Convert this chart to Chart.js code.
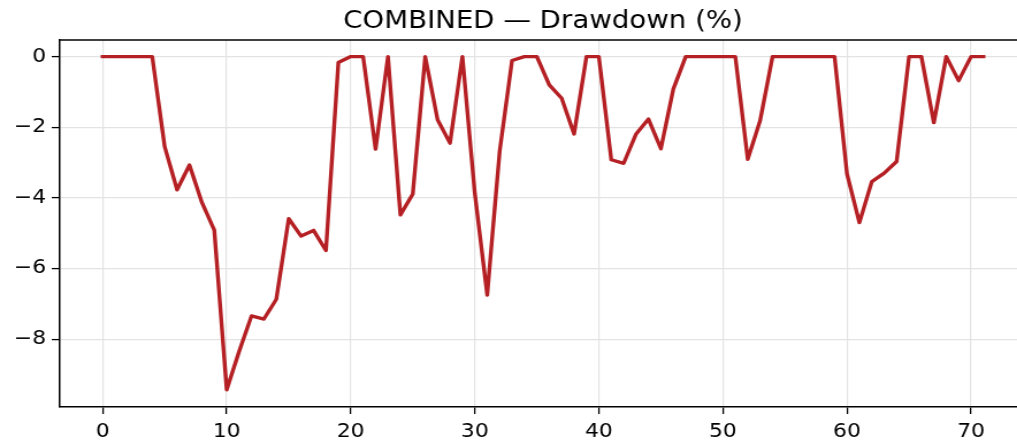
<!DOCTYPE html>
<html>
<head>
<meta charset="utf-8">
<script src="https://cdn.jsdelivr.net/npm/chart.js@4"></script>
<style>
  html, body { margin: 0; padding: 0; background: #fff; overflow: hidden; }
  #wrap { width: 944px; height: 447px; transform: scaleX(1.1505); transform-origin: 0 0; }
</style>
</head>
<body>
<div id="wrap"><canvas id="grafico-drawdown"></canvas></div>
<script>
// Dados do gráfico
const titulo = 'COMBINED — Drawdown (%)';
const dias = [0, 1, 2, 3, 4, 5, 6, 7, 8, 9, 10, 11, 12, 13, 14, 15, 16, 17, 18, 19,
  20, 21, 22, 23, 24, 25, 26, 27, 28, 29, 30, 31, 32, 33, 34, 35, 36, 37, 38, 39,
  40, 41, 42, 43, 44, 45, 46, 47, 48, 49, 50, 51, 52, 53, 54, 55, 56, 57, 58, 59,
  60, 61, 62, 63, 64, 65, 66, 67, 68, 69, 70, 71];
const drawdown = [0, 0, 0, 0, 0, -2.55, -3.77, -3.07, -4.13, -4.91,
  -9.43, -8.35, -7.34, -7.43, -6.87, -4.59, -5.08, -4.92, -5.49, -0.17,
  0, 0, -2.62, 0, -4.48, -3.89, 0, -1.79, -2.45, 0,
  -3.87, -6.75, -2.69, -0.11, 0, 0, -0.80, -1.18, -2.19, 0,
  0, -2.92, -3.02, -2.19, -1.77, -2.61, -0.92, 0, 0, 0,
  0, 0, -2.91, -1.81, 0, 0, 0, 0, 0, 0,
  -3.32, -4.70, -3.54, -3.30, -2.97, 0, 0, -1.87, 0, -0.68,
  0, 0];
const ticksX = [0, 10, 20, 30, 40, 50, 60, 70];
const ticksY = [0, -2, -4, -6, -8];

// Título centrado sobre o eixo e linha superior (spine)
const tituloEBorda = {
    id: 'tituloEBorda',
    afterDraw(chart) {
        const { ctx, chartArea } = chart;
        ctx.save();
        ctx.strokeStyle = '#000';
        ctx.lineWidth = 1.5;
        ctx.beginPath();
        ctx.moveTo(chartArea.left, chartArea.top);
        ctx.lineTo(chartArea.right + 20, chartArea.top);
        ctx.stroke();

        ctx.fillStyle = '#000';
        ctx.font = '24px "DejaVu Sans"';
        ctx.textAlign = 'center';
        ctx.textBaseline = 'alphabetic';
        ctx.fillText(titulo, (chartArea.left + chartArea.right) / 2, 27.5);
        ctx.restore();
    }
};

function criarGrafico() {
    const ctx = document.getElementById('grafico-drawdown').getContext('2d');

    new Chart(ctx, {
        type: 'line',
        data: {
            datasets: [{
                data: dias.map((d, i) => ({ x: d, y: drawdown[i] })),
                borderColor: '#b52024',
                borderWidth: 3.4,
                borderJoinStyle: 'round',
                borderCapStyle: 'square',
                pointRadius: 0,
                tension: 0,
                fill: false
            }]
        },
        options: {
            responsive: true,
            maintainAspectRatio: false,
            animation: false,
            layout: { padding: { left: 0, right: 52, top: 40, bottom: 0 } },
            plugins: {
                legend: { display: false },
                tooltip: { enabled: false },
                title: { display: false }
            },
            scales: {
                x: {
                    type: 'linear',
                    min: -3.45,
                    max: 74.45,
                    afterBuildTicks: scale => { scale.ticks = ticksX.map(v => ({ value: v })); },
                    afterFit: scale => { scale.height = 40; },
                    grid: {
                        color: '#e3e3e3',
                        lineWidth: 1.2,
                        tickColor: '#000',
                        tickWidth: 1.3,
                        tickLength: 7
                    },
                    border: { color: '#000', width: 1.5 },
                    ticks: {
                        color: '#000',
                        padding: 7,
                        maxRotation: 0,
                        font: { family: 'DejaVu Sans', size: 19 }
                    }
                },
                y: {
                    min: -9.92,
                    max: 0.47,
                    afterBuildTicks: scale => { scale.ticks = ticksY.map(v => ({ value: v })); },
                    afterFit: scale => { scale.width = 52; },
                    grid: {
                        color: '#e3e3e3',
                        lineWidth: 1.2,
                        tickColor: '#000',
                        tickWidth: 1.3,
                        tickLength: 7
                    },
                    border: { color: '#000', width: 1.5 },
                    ticks: {
                        color: '#000',
                        padding: 5,
                        font: { family: 'DejaVu Sans', size: 19 },
                        callback: function (value) {
                            return value < 0 ? '\u2212' + Math.abs(value) : String(value);
                        }
                    }
                }
            }
        },
        plugins: [tituloEBorda]
    });
}

criarGrafico();
</script>
</body>
</html>
